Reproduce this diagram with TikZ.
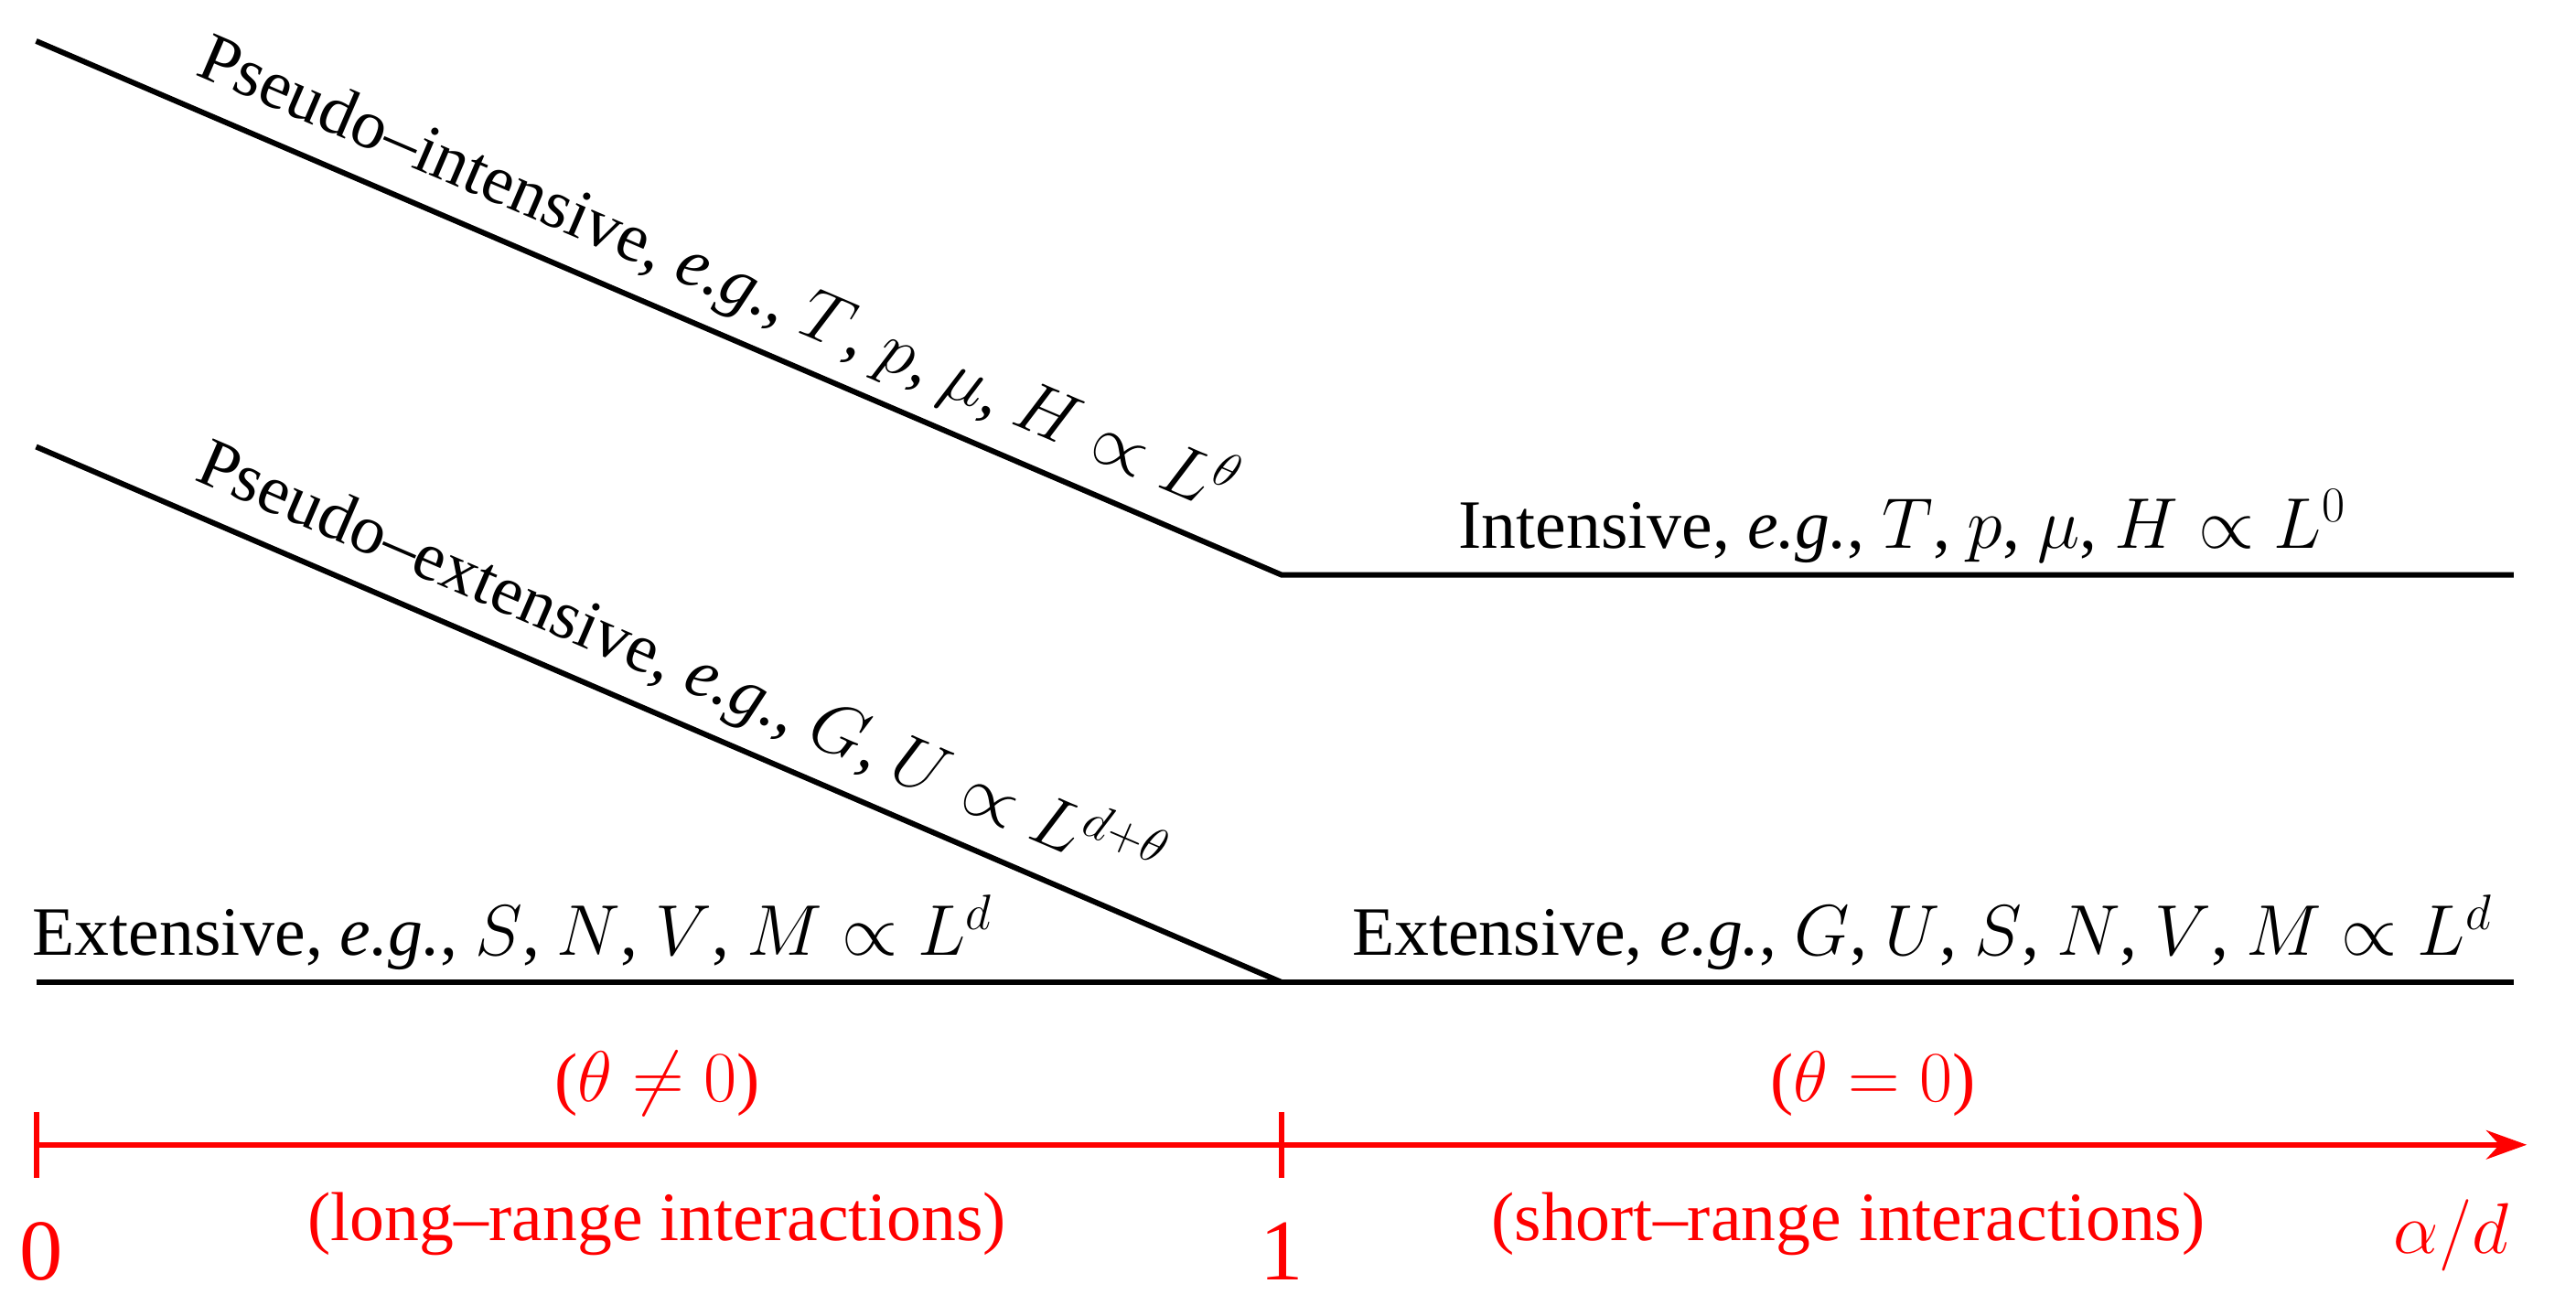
\documentclass[tikz,border=0pt]{standalone}
\usepackage{fontspec}
\setmainfont{Liberation Serif}
\usetikzlibrary{positioning,calc,arrows.meta}

\begin{document}
\begin{tikzpicture}[
    x=0.02cm, y=-0.02cm,
    every node/.style={font=\fontsize{24}{29}\selectfont, inner sep=2pt},
    prop/.style={line width=1.9pt, draw=black},
    axis/.style={line width=1.9pt, draw=red},
    red/.style={text=red},
    ]
    \useasboundingbox (0,0) rectangle (1568,801);

    % corner points
    \coordinate (pi_s) at (22,25);
    \coordinate (pe_s) at (22,272);
    \coordinate (ex_s) at (22,598);
    \coordinate (int_k) at (780,350);
    \coordinate (ext_k) at (780,598);
    \coordinate (int_e) at (1530,350);
    \coordinate (ext_e) at (1530,598);

    % property lines
    \draw[prop] (pi_s) -- node[sloped, above=3pt, pos=0.53] (l_pi)
        {Pseudo--intensive, \textit{e.g.}, $T$, $p$, $\mu$, $H \propto L^{\theta}$} (int_k) -- (int_e);
    \draw[prop] (pe_s) -- node[sloped, above=3pt, pos=0.5] (l_pe)
        {Pseudo--extensive, \textit{e.g.}, $G$, $U \propto L^{d+\theta}$} (ext_k);
    \draw[prop] (ex_s) -- (ext_k) -- (ext_e);

    \node[above=2pt] (l_ex1) at (312,598) {Extensive, \textit{e.g.}, $S$, $N$, $V$, $M \propto L^{d}$};
    \node[above=2pt] (l_ex2) at (1170,598) {Extensive, \textit{e.g.}, $G$, $U$, $S$, $N$, $V$, $M \propto L^{d}$};
    \node[above=2pt] (l_int) at (1158,350) {Intensive, \textit{e.g.}, $T$, $p$, $\mu$, $H \propto L^{0}$};

    % alpha/d axis
    \coordinate (a0) at (22,697);
    \coordinate (a1) at (780,697);
    \coordinate (a2) at (1538,697);
    \draw[axis, -{Stealth[length=14pt, width=10pt]}] (a0) -- (a2);
    \draw[axis] ($(a0)+(0,-20)$) -- ($(a0)+(0,20)$);
    \draw[axis] ($(a1)+(0,-20)$) -- ($(a1)+(0,20)$);

    \node[red, font=\fontsize{30}{34}\selectfont] (n0) at (25,762) {0};
    \node[red, font=\fontsize{30}{34}\selectfont] (n1) at (780,762) {1};
    \node[red, font=\fontsize{44}{48}\selectfont] (nad) at (1492,752) {$\alpha/d$};
    \node[red] (th1) at (400,660) {($\theta \neq 0$)};
    \node[red] (th0) at (1140,660) {($\theta = 0$)};
    \node[red] (lr) at (400,745) {(long--range interactions)};
    \node[red] (sr) at (1125,745) {(short--range interactions)};
\end{tikzpicture}
\end{document}
